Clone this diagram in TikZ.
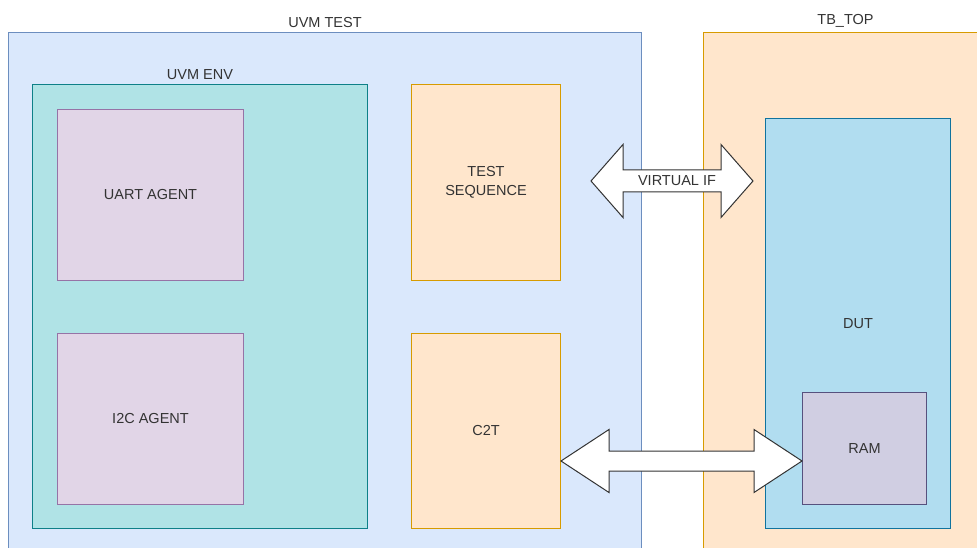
\documentclass[tikz,border=0pt]{standalone}
\usepackage{fontspec}
\setmainfont{Liberation Sans}
\usetikzlibrary{calc,positioning}
\definecolor{testfill}{HTML}{DAE8FC}
\definecolor{testline}{HTML}{6C8EBF}
\definecolor{envfill}{HTML}{B0E3E6}
\definecolor{envline}{HTML}{0E8088}
\definecolor{agentfill}{HTML}{E1D5E7}
\definecolor{agentline}{HTML}{9673A6}
\definecolor{orangefill}{HTML}{FFE6CC}
\definecolor{orangeline}{HTML}{D79B00}
\definecolor{dutfill}{HTML}{B1DDF0}
\definecolor{dutline}{HTML}{10739E}
\definecolor{ramfill}{HTML}{D0CEE2}
\definecolor{ramline}{HTML}{56517E}

\tikzset{
  fatarrow/.style n args={3}{draw=black!80, line width=1pt, fill=white, line join=miter,
    to path={let \p1=(\tikztostart), \p2=(\tikztotarget) in
      (\x1,\y1) -- (\x1+#1pt,\y1+#2pt) -- (\x1+#1pt,\y1+#3pt) -- (\x2-#1pt,\y1+#3pt)
      -- (\x2-#1pt,\y1+#2pt) -- (\x2,\y1) -- (\x2-#1pt,\y1-#2pt) -- (\x2-#1pt,\y1-#3pt)
      -- (\x1+#1pt,\y1-#3pt) -- (\x1+#1pt,\y1-#2pt) -- cycle}}
}

\begin{document}
\begin{tikzpicture}[x=1pt, y=-1pt, font=\fontsize{14.5}{19}\selectfont]
    \tikzstyle{every label} = [text=black!80, label distance=1pt]
    \tikzstyle{block} = [draw, line width=1pt, anchor=north west, inner sep=0pt, align=center, text=black!80]
    \tikzstyle{frame} = [block, fill=testfill, draw=testline]
    \tikzstyle{env} = [block, fill=envfill, draw=envline]
    \tikzstyle{agent} = [block, fill=agentfill, draw=agentline, minimum width=186pt, minimum height=171pt]
    \tikzstyle{component} = [block, fill=orangefill, draw=orangeline, minimum width=149pt]
    \tikzstyle{dut} = [block, fill=dutfill, draw=dutline]
    \tikzstyle{memory} = [block, fill=ramfill, draw=ramline]

    \useasboundingbox (0,0) rectangle (977,548);
    \clip (0,0) rectangle (977,548);

    \node (test) [frame, minimum width=633pt, minimum height=540pt, label=above:UVM TEST] at (8,32) {};
    \node (tbtop) [component, minimum width=284pt, minimum height=540pt, label=above:TB\_TOP] at (703,32) {};

    \node (env) [env, minimum width=335pt, minimum height=444pt, label=above:UVM ENV] at (32,84) {};
    \node (uart) [agent] at (57,109) {UART AGENT};
    \node (i2c) [agent] at (57,333) {I2C AGENT};
    \node (seq) [component, minimum height=196pt] at (411,84) {TEST\\SEQUENCE};
    \node (c2t) [component, minimum height=195pt] at (411,333) {C2T};

    \node (dut) [dut, minimum width=185pt, minimum height=410pt] at (765,118) {DUT};
    \node (ram) [memory, minimum width=124pt, minimum height=112pt] at (802,392) {RAM};

    \coordinate (vifleft) at (591,181);
    \coordinate (vifright) at (753,181);
    \coordinate (c2tport) at (c2t.east |- 0,461);

    \draw [fatarrow={32}{36.5}{11}] (vifleft) to (vifright);
    \node (vif) [text=black!80] at (677,181) {VIRTUAL IF};
    \draw [fatarrow={48}{31.5}{10}] (c2tport) to (ram.west);
\end{tikzpicture}
\end{document}
